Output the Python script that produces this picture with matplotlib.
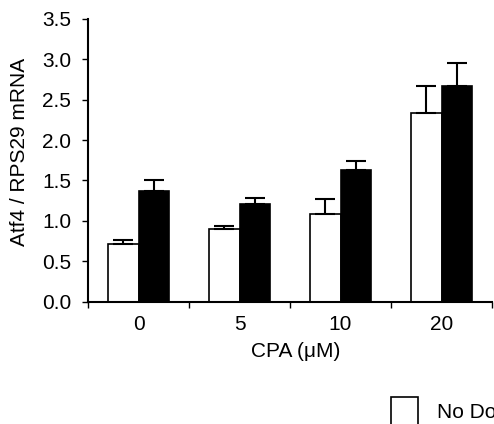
import numpy as np
import matplotlib
matplotlib.use("Agg")
import matplotlib.pyplot as plt

plt.rcParams['font.family'] = ['Liberation Sans', 'DejaVu Sans']
plt.rcParams['font.size'] = 15

# Data
doses = ["0", "5", "10", "20"]
no_dox = [0.71, 0.90, 1.09, 2.34]
no_dox_err = [0.05, 0.03, 0.18, 0.33]
dox = [1.37, 1.21, 1.63, 2.67]
dox_err = [0.14, 0.07, 0.11, 0.28]
labels = ["No Dox", "Dox"]

x = np.arange(len(doses))
w = 0.3

fig = plt.figure(figsize=(4.94, 4.24), dpi=100)
ax = fig.add_axes([88 / 494, (424 - 301.5) / 424, 404 / 494, 282.5 / 424])

err_kw = dict(lw=1.5, capsize=7, capthick=1.5, ecolor='black')
b1 = ax.bar(x - w / 2, no_dox, w, color='white', edgecolor='black', linewidth=1.2,
            yerr=[np.zeros(len(x)), no_dox_err], error_kw=err_kw, label=labels[0])
b2 = ax.bar(x + w / 2, dox, w, color='black', edgecolor='black', linewidth=1.2,
            yerr=[np.zeros(len(x)), dox_err], error_kw=err_kw, label=labels[1])

ax.set_xlim(-0.5, len(doses) - 0.5)
ax.set_ylim(0, 3.5)
ax.set_yticks(np.arange(0, 3.51, 0.5))
ax.set_yticklabels([f"{v:.1f}" for v in np.arange(0, 3.51, 0.5)])

# boundary ticks, labels at group centres
ax.set_xticks(np.arange(-0.5, len(doses), 1.0))
ax.set_xticklabels([])
ax.set_xticks(x, minor=True)
ax.set_xticklabels(doses, minor=True)
ax.tick_params(axis='x', which='minor', length=0, pad=10)
ax.tick_params(axis='x', which='major', length=4, width=1)
ax.tick_params(axis='y', length=4, width=1, pad=8)

for s in ['top', 'right']:
    ax.spines[s].set_visible(False)
for s in ['left', 'bottom']:
    ax.spines[s].set_linewidth(1.5)

ax.set_ylabel("Atf4 / RPS29 mRNA")
ax.yaxis.set_label_coords(-0.145, 0.53)
ax.set_xlabel("CPA (\u03bcM)")
ax.xaxis.set_label_coords(0.515, -0.145)

# legend runs off the right/bottom edge, as in the reference
fig.legend(handles=[b1, b2], labels=labels, loc='upper left',
           bbox_to_anchor=(391 / 494, 1 - 397 / 424), ncol=2, frameon=False,
           handlelength=1.3, handleheight=1.7, handletextpad=0.9,
           borderpad=0, borderaxespad=0, columnspacing=1.5)

fig.savefig("out.png", dpi=100)
